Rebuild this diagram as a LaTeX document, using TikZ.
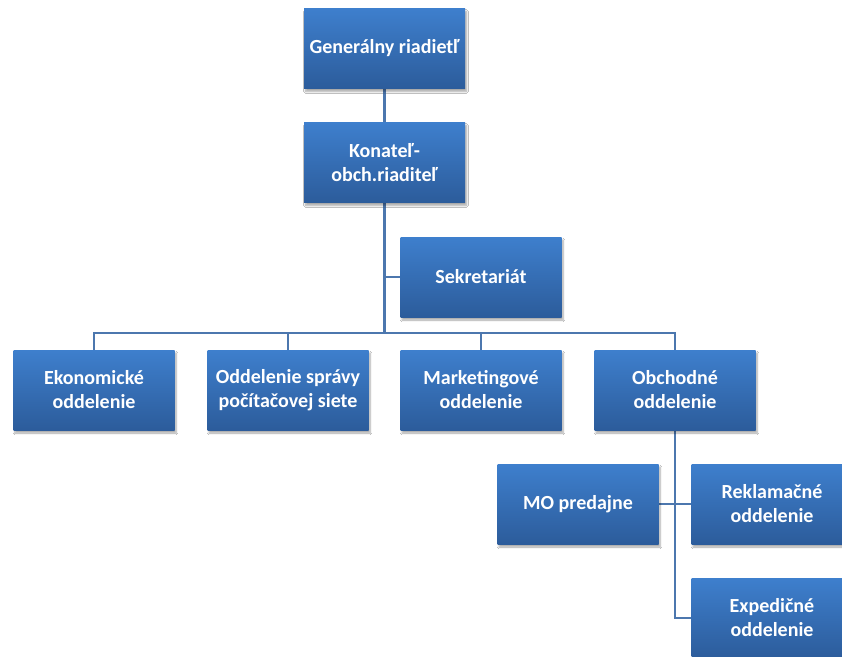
\documentclass[tikz,border=0pt]{standalone}
\usepackage{fontspec}
\setmainfont{Carlito}
\usetikzlibrary{shadows.blur,backgrounds}
\definecolor{boxtop}{HTML}{3E7FCD}
\definecolor{boxbot}{HTML}{2C5C9B}
\definecolor{linec}{HTML}{4C77AE}
\tikzset{
  orgbox/.style={rectangle, minimum width=161pt, minimum height=80pt, inner sep=0pt,
    top color=boxtop, bottom color=boxbot, draw=none, text=white, align=center,
    font=\fontsize{20}{24}\selectfont\bfseries,
    blur shadow={shadow xshift=1.5pt, shadow yshift=-3pt, shadow blur steps=6, shadow opacity=35}},
  conn/.style={draw=linec, line width=2.4pt}
}
\begin{document}
\begin{tikzpicture}[x=1pt,y=-1pt]
\useasboundingbox (0,0) rectangle (842,656);
% nodes
\node[orgbox] (gen) at (384.5,48.5) {Generálny riadietľ};
\node[orgbox] (kon) at (384.5,162.5) {Konateľ-\\obch.riaditeľ};
\node[orgbox] (sek) at (481,277) {Sekretariát};
\node[orgbox] (eko) at (94,390) {Ekonomické\\oddelenie};
\node[orgbox] (odd) at (288,390) {Oddelenie správy\\počítačovej siete};
\node[orgbox] (mar) at (481,390) {Marketingové\\oddelenie};
\node[orgbox] (obc) at (675,390) {Obchodné\\oddelenie};
\node[orgbox] (mo) at (578,504) {MO predajne};
\node[orgbox] (rek) at (772,504) {Reklamačné\\oddelenie};
\node[orgbox] (exp) at (772,618) {Expedičné\\oddelenie};
\coordinate (bus) at (384.5,333);
% connectors
\begin{scope}[on background layer]
\fill[white] (0,0) rectangle (842,656);
\draw[conn] (gen) -- (kon);
\draw[conn] (kon.south) -- (bus);
\draw[conn] (sek.west) -- (sek.west -| kon.south);
\draw[conn] (eko.north) |- (bus) -| (obc.north);
\draw[conn] (odd.north) -- (odd.north |- bus);
\draw[conn] (mar.north) -- (mar.north |- bus);
\draw[conn] (obc.south) |- (exp.west);
\draw[conn] (mo.east) -- (rek.west);
\end{scope}
\end{tikzpicture}
\end{document}
